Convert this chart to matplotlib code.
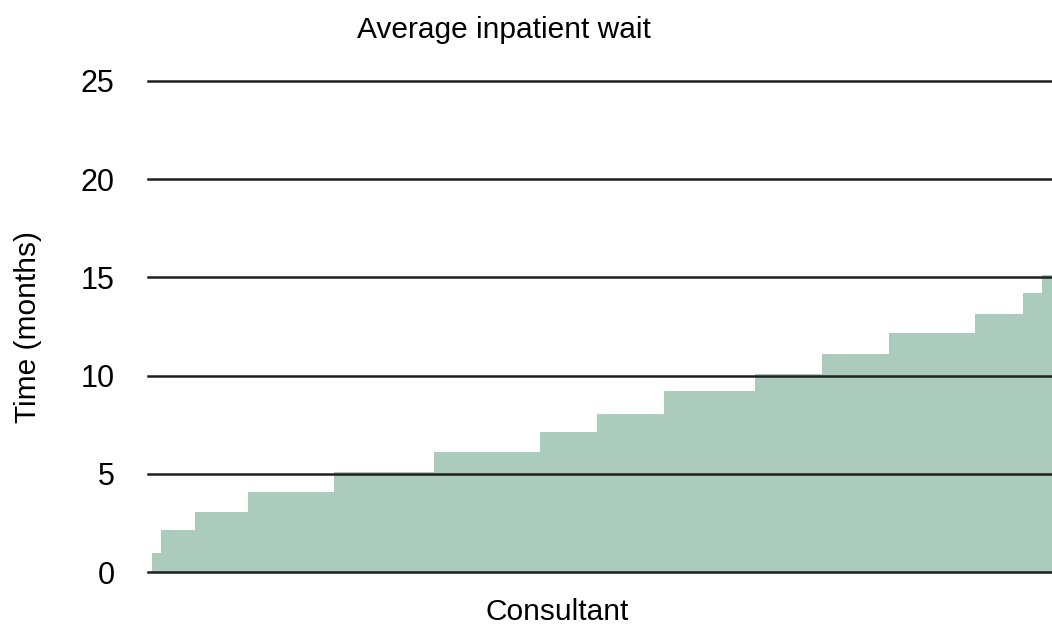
import matplotlib.pyplot as plt
import numpy as np

# average wait per band of consultants (sorted), and how many consultants fall in each band
wait_months = [0.97, 2.15, 3.05, 4.05, 5.1, 6.1, 7.12, 8.05, 9.2, 10.08, 11.1, 12.15, 13.12, 14.2, 15.1]
n_consultants = [2, 7, 11, 18, 21, 22, 12, 14, 19, 14, 14, 18, 10, 4, 2]
yticks = [0, 5, 10, 15, 20, 25]

FILL = "#abcbbd"
GRID = "#1e1e1e"
plt.rcParams["font.family"] = ["Liberation Sans", "DejaVu Sans"]

edges = np.concatenate([[0], np.cumsum(n_consultants)])

fig = plt.figure(figsize=(10.52, 6.28), dpi=100)
ax = fig.add_axes([148 / 1052, 1 - 572 / 628, 1 - 148 / 1052, (572 - 81) / 628])
ax.stairs(wait_months, edges, fill=True, color=FILL, lw=0, zorder=1)
for y in yticks:
    ax.axhline(y, color=GRID, lw=1.8, zorder=3, clip_on=False)

ax.set_xlim(-0.8, edges[-1])
ax.set_ylim(0, 25)
ax.set_xticks([])
ax.set_yticks(yticks)
ax.tick_params(axis="y", length=0, pad=24, labelsize=22)
for s in ax.spines.values():
    s.set_visible(False)

fig.text(504 / 1052, 1 - 30 / 628, "Average inpatient wait", ha="center", va="center", fontsize=21.5)
fig.text(557 / 1052, 1 - 612 / 628, "Consultant", ha="center", va="center", fontsize=21.5)
fig.text(28 / 1052, 1 - 327 / 628, "Time (months)", ha="center", va="center",
         rotation=90, fontsize=21.5)

fig.savefig("out.png", dpi=100)
